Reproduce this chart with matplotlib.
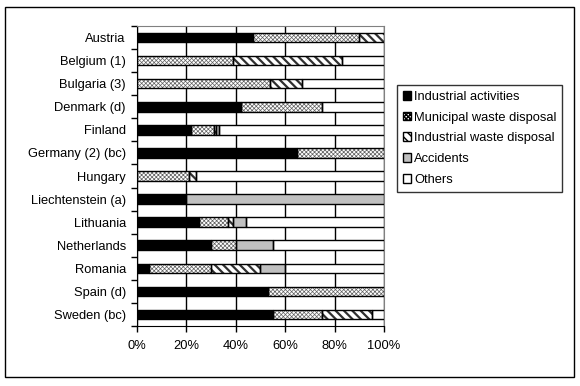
import matplotlib
matplotlib.use("Agg")
import matplotlib.pyplot as plt
from matplotlib.patches import Rectangle, Patch

plt.rcParams['font.family'] = ['Liberation Sans', 'DejaVu Sans']
plt.rcParams['font.size'] = 9.3

countries = ['Austria', 'Belgium (1)', 'Bulgaria (3)', 'Denmark (d)', 'Finland',
             'Germany (2) (bc)', 'Hungary', 'Liechtenstein (a)', 'Lithuania',
             'Netherlands', 'Romania', 'Spain (d)', 'Sweden (bc)']

industrial = [47, 0, 0, 42, 22, 65, 0, 20, 25, 30, 5, 53, 55]
municipal = [43, 39, 54, 33, 9.4, 35, 21, 0, 12, 10, 25, 47, 20]
ind_waste = [10, 44, 13, 0, 0.6, 0, 3, 0, 2, 0, 20, 0, 20]
accidents = [0, 0, 0, 0, 1.3, 0, 0, 80, 5, 15, 10, 0, 0]
others = [0, 17, 33, 25, 66.7, 0, 76, 0, 56, 45, 40, 0, 5]

# name, values, face, hatch, hatch colour, hatch linewidth
series = [
    ('Industrial activities', industrial, 'black', None, 'black', 0.5),
    ('Municipal waste disposal', municipal, 'white', 'xxxxxxxx', '#606060', 0.5),
    ('Industrial waste disposal', ind_waste, 'white', '\\\\\\\\', '#303030', 1.6),
    ('Accidents', accidents, '#c0c0c0', None, '#c0c0c0', 0.5),
    ('Others', others, 'white', None, 'white', 0.5),
]

fig = plt.figure(figsize=(5.8, 3.86), dpi=100)
ax = fig.add_axes([0.236, 0.155, 0.426, 0.778])

h = 0.42
left = [0.0] * len(countries)
for name, vals, fc, hatch, hc, hlw in series:
    for i, v in enumerate(vals):
        if v <= 0:
            continue
        b = ax.barh(i, v, left=left[i], height=h, color=fc, hatch=hatch,
                    edgecolor=hc, linewidth=0, zorder=2)
        for p in b:
            if hasattr(p, 'set_hatch_linewidth'):
                p.set_hatch_linewidth(hlw)
        ax.barh(i, v, left=left[i], height=h, fill=False, edgecolor='black',
                linewidth=1, zorder=3)
        left[i] += v

ax.set_xlim(0, 100)
ax.set_ylim(len(countries) - 0.5, -0.5)
ax.set_xticks([0, 20, 40, 60, 80, 100])
ax.set_xticklabels(['0%', '20%', '40%', '60%', '80%', '100%'])
ax.set_yticks(range(len(countries)))
ax.set_yticklabels(countries)
ax.set_yticks([i - 0.5 for i in range(len(countries) + 1)], minor=True)
ax.tick_params(axis='y', which='major', length=0, pad=8)
ax.tick_params(axis='y', which='minor', length=4, width=1, color='black')
ax.tick_params(axis='x', length=4, width=1, pad=6)
ax.grid(axis='x', color='black', linewidth=1, zorder=1)
ax.set_axisbelow(True)
for s in ['top', 'right']:
    ax.spines[s].set_color('#808080')
for s in ['left', 'bottom']:
    ax.spines[s].set_color('black')

handles = []
for name, vals, fc, hatch, hc, hlw in series:
    p = Patch(facecolor=fc, edgecolor='black', hatch=hatch, linewidth=1,
              label=name)
    if hasattr(p, 'set_hatch_linewidth'):
        p.set_hatch_linewidth(min(hlw, 0.8))
    handles.append(p)
leg = fig.legend(handles=handles, loc='upper left',
                 bbox_to_anchor=(0.684, 0.78),
                 frameon=True, fancybox=False, handlelength=0.65,
                 handleheight=0.65, handletextpad=0.25, labelspacing=0.68,
                 borderpad=0.45, borderaxespad=0)
leg.get_frame().set_edgecolor('black')
leg.get_frame().set_linewidth(1)

fig.patches.append(Rectangle((5 / 580, 9 / 386), 569 / 580, 370 / 386,
                             transform=fig.transFigure, fill=False,
                             edgecolor='black', linewidth=1))

fig.savefig('out.png', dpi=100)
